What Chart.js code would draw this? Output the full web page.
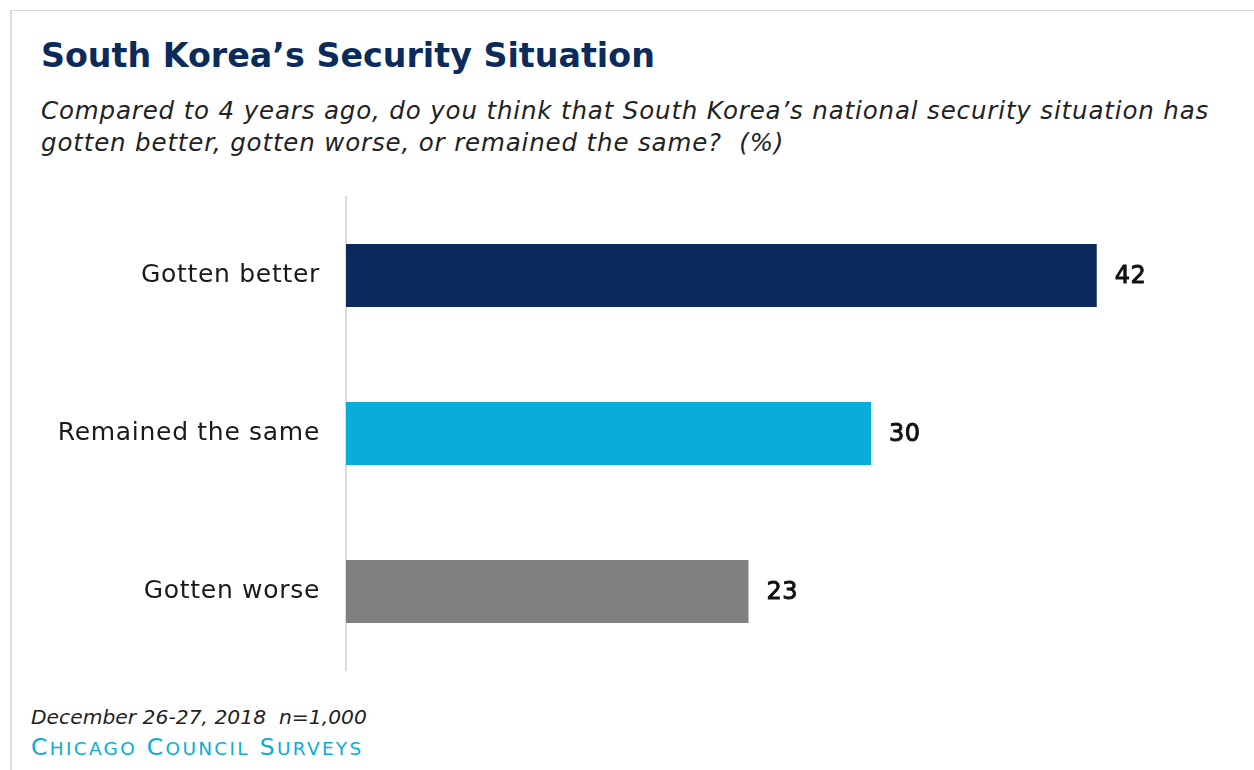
<!DOCTYPE html>
<html>
<head>
<meta charset="utf-8">
<script src="https://cdn.jsdelivr.net/npm/chart.js@4/dist/chart.umd.min.js"></script>
<style>
  html, body { margin: 0; padding: 0; background: #fff; }
  body { width: 1254px; height: 770px; position: relative; overflow: hidden; font-family: "DejaVu Sans", sans-serif; }
  #frame { position: absolute; left: 10px; top: 10px; right: -5px; bottom: -5px; border-top: 1px solid #dcdcdc; border-left: 2px solid #dcdcdc; }
  #title { position: absolute; left: 41px; top: 36px; font-size: 33.3px; font-weight: 700; color: #0b2b5b; white-space: nowrap; }
  #subtitle { position: absolute; left: 41px; top: 95px; font-size: 24.5px; letter-spacing: 0.85px; font-style: italic; color: #222; line-height: 32px; white-space: nowrap; }
  #note { position: absolute; left: 31px; top: 705px; font-size: 20.3px; font-style: italic; color: #222; white-space: nowrap; }
  #source { position: absolute; left: 31px; top: 733px; font-size: 23.5px; color: #0aacd8; white-space: nowrap; letter-spacing: 2.3px; }
  #source .sc { font-size: 18.5px; }
  #wrap { position: absolute; left: 0; top: 0; width: 1254px; height: 770px; }
</style>
</head>
<body>
<div id="frame"></div>
<div id="title">South Korea’s Security Situation</div>
<div id="subtitle">Compared to 4 years ago, do you think that South Korea’s national security situation has<br>gotten better, gotten worse, or remained the same?&nbsp; (%)</div>
<div id="note">December 26-27, 2018&nbsp; n=1,000</div>
<div id="source">C<span class="sc">HICAGO</span> C<span class="sc">OUNCIL</span> S<span class="sc">URVEYS</span></div>
<div id="wrap"><canvas id="c" width="1254" height="770"></canvas></div>
<script>
const categories = ['Gotten better', 'Remained the same', 'Gotten worse'];
const barValues = [42.9, 30, 23];
const valueLabels = ['42', '30', '23'];
const barColors = ['#0a2b5c', '#08aed8', '#808080'];

const spacingPlugin = {
  id: 'spacing',
  beforeDraw(chart) { chart.ctx.letterSpacing = '0.7px'; }
};

const valueLabelPlugin = {
  id: 'valueLabels',
  afterDatasetsDraw(chart) {
    const ctx = chart.ctx;
    const meta = chart.getDatasetMeta(0);
    ctx.save();
    ctx.letterSpacing = '0.5px';
    ctx.font = '24px "DejaVu Sans", sans-serif';
    ctx.fillStyle = '#111';
    ctx.strokeStyle = '#111';
    ctx.lineWidth = 0.9;
    ctx.textAlign = 'left';
    ctx.textBaseline = 'middle';
    meta.data.forEach((bar, i) => {
      ctx.fillText(valueLabels[i], bar.x + 18, bar.y + 1);
      ctx.strokeText(valueLabels[i], bar.x + 18, bar.y + 1);
    });
    ctx.restore();
  }
};

new Chart(document.getElementById('c'), {
  type: 'bar',
  data: {
    labels: categories,
    datasets: [{
      data: barValues,
      backgroundColor: barColors,
      borderWidth: 0,
      barPercentage: 0.4,
      categoryPercentage: 1.0
    }]
  },
  options: {
    indexAxis: 'y',
    responsive: false,
    animation: false,
    layout: { padding: { top: 196.5, bottom: 99.5, left: 0, right: 54 } },
    plugins: { legend: { display: false }, tooltip: { enabled: false } },
    scales: {
      x: { display: false, min: 0, max: 48.8 },
      y: {
        afterFit(scale) { scale.width = 346; },
        grid: { display: false, drawTicks: false },
        border: { display: true, color: '#dcdcdc', width: 2 },
        ticks: {
          padding: 26,
          color: '#1a1a1a',
          font: { size: 25, family: '"DejaVu Sans", sans-serif' }
        }
      }
    }
  },
  plugins: [spacingPlugin, valueLabelPlugin]
});
</script>
</body>
</html>
